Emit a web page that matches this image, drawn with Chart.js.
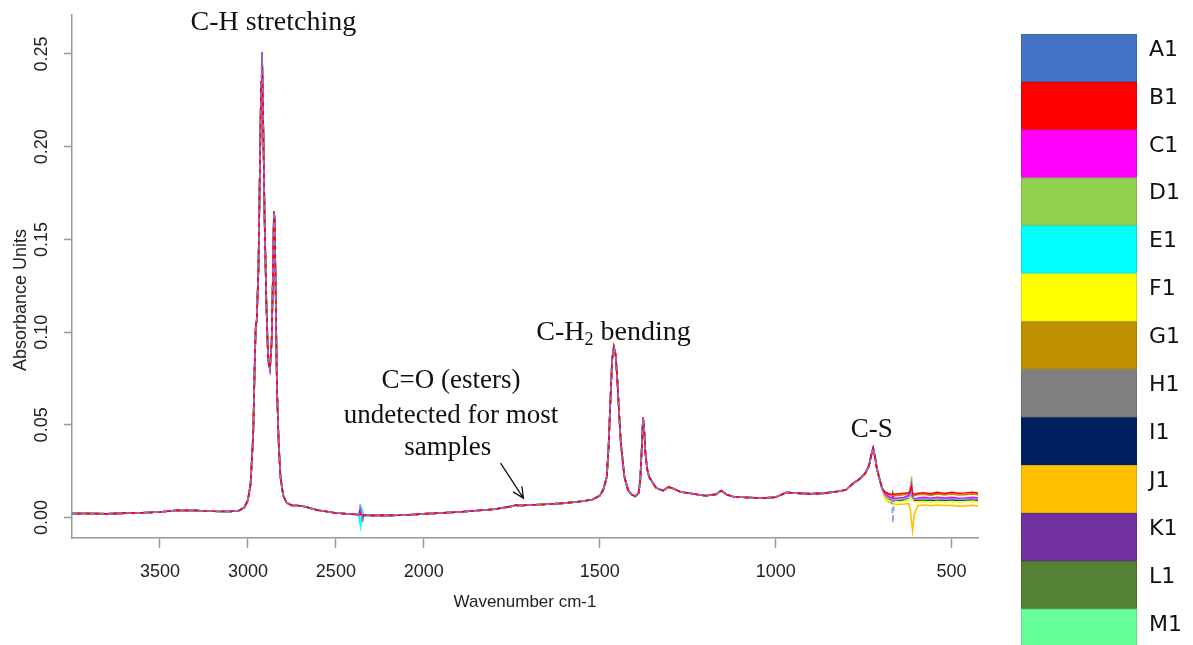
<!DOCTYPE html>
<html lang="en">
<head>
<meta charset="UTF-8">
<title>FTIR spectra A1-M1</title>
<script src="https://cdn.jsdelivr.net/npm/chart.js"></script>
<style>
  html, body { margin: 0; padding: 0; background: #fff; }
  .wrap { width: 1193px; height: 645px; position: relative; }
</style>
</head>
<body>
<div class="wrap"><canvas id="spectra"></canvas></div>
<script>
  // samples and their colours (legend on the right)
  const sampleNames = ['A1', 'B1', 'C1', 'D1', 'E1', 'F1', 'G1', 'H1', 'I1', 'J1', 'K1', 'L1', 'M1'];
  const sampleColors = ['#4472C4', '#FF0000', '#FF00FF', '#92D050', '#00FFFF', '#FFFF00', '#BF8F00',
                        '#808080', '#002060', '#FFC000', '#7030A0', '#548235', '#66FF99'];

  const xTicks = [3500, 3000, 2500, 2000, 1500, 1000, 500];
  const yTicks = [0, 0.05, 0.10, 0.15, 0.20, 0.25];

  // 4000-2380 cm-1 : all samples overlap
  const highWn  = [4000, 3900, 3800, 3700, 3600, 3500, 3400, 3300, 3200, 3100, 3050, 3020, 3000, 2985, 2970,
                   2960, 2955, 2950, 2940, 2930, 2925, 2920, 2915, 2905, 2895, 2885, 2875, 2865, 2858, 2852,
                   2848, 2842, 2835, 2825, 2815, 2800, 2780, 2750, 2720, 2680, 2650, 2600, 2500, 2400, 2380];
  const highAbs = [0.0022, 0.0022, 0.0020, 0.0024, 0.0026, 0.0030, 0.0040, 0.0038, 0.0034, 0.0033, 0.0038, 0.0055, 0.0095, 0.018, 0.045,
                   0.088, 0.104, 0.106, 0.135, 0.200, 0.235, 0.251, 0.225, 0.160, 0.115, 0.085, 0.080, 0.095, 0.130, 0.165,
                   0.160, 0.120, 0.070, 0.040, 0.022, 0.012, 0.008, 0.0065, 0.0065, 0.0060, 0.0052, 0.0040, 0.0025, 0.0018, 0.0017];

  // CO2 region, one row per sample
  const co2Wn = [2370, 2360, 2350, 2340];
  const co2Abs = [
    [0.0020, 0.0078, -0.0030, 0.0012],
    [0.0016, 0.0020, 0.0010, 0.0014],
    [0.0016, 0.0030, 0.0005, 0.0014],
    [0.0016, 0.0018, 0.0012, 0.0014],
    [0.0012, -0.0050, 0.0040, 0.0010],
    [0.0016, 0.0016, 0.0014, 0.0014],
    [0.0016, 0.0016, 0.0014, 0.0014],
    [0.0016, 0.0018, 0.0012, 0.0014],
    [0.0016, 0.0025, 0.0008, 0.0014],
    [0.0016, 0.0016, 0.0014, 0.0014],
    [0.0018, 0.0050, -0.0010, 0.0013],
    [0.0016, 0.0018, 0.0012, 0.0014],
    [0.0014, -0.0020, 0.0030, 0.0012]
  ];

  // 2300-698 cm-1 : all samples overlap
  const midWn  = [2300, 2200, 2100, 2000, 1900, 1800, 1760, 1745, 1740, 1735, 1720, 1700, 1650, 1600, 1550,
                  1520, 1500, 1490, 1480, 1475, 1470, 1465, 1460, 1455, 1450, 1445, 1440, 1430, 1420, 1410,
                  1400, 1390, 1385, 1380, 1377, 1374, 1370, 1365, 1360, 1350, 1340, 1320, 1305, 1290, 1270,
                  1240, 1200, 1170, 1155, 1140, 1120, 1080, 1040, 1000, 970, 940, 900, 860, 820, 800,
                  780, 760, 745, 735, 728, 723, 718, 712, 705, 698];
  const midAbs = [0.0012, 0.0012, 0.0014, 0.0020, 0.0030, 0.0045, 0.0058, 0.0063, 0.0068, 0.0066, 0.0066, 0.0068, 0.0072, 0.0078, 0.0088,
                  0.0098, 0.0118, 0.015, 0.022, 0.038, 0.062, 0.085, 0.092, 0.088, 0.074, 0.056, 0.040, 0.022, 0.015, 0.0125,
                  0.0115, 0.013, 0.020, 0.040, 0.054, 0.048, 0.034, 0.026, 0.022, 0.019, 0.016, 0.0145, 0.0165, 0.0155, 0.0138,
                  0.013, 0.0118, 0.0125, 0.0145, 0.0125, 0.0112, 0.0108, 0.0105, 0.011, 0.0135, 0.0132, 0.0128, 0.0132, 0.0142, 0.015,
                  0.0185, 0.021, 0.024, 0.028, 0.034, 0.0375, 0.033, 0.026, 0.021, 0.016];

  // below 700 cm-1 the samples drift apart, one row per sample
  const tailWn = [690, 680, 670, 667, 664, 650, 635, 622, 617, 614, 611, 606, 595, 580, 560, 540, 520, 500, 480, 460, 440, 425];
  const tailAbs = [
    [0.0120, 0.0100, 0.0090, -0.0030, 0.0092, 0.0095, 0.0098, 0.0105, 0.0120, 0.0135, 0.0110, 0.0095, 0.0098, 0.0102, 0.0098, 0.0102, 0.0097, 0.0102, 0.0098, 0.0097, 0.0101, 0.0098],
    [0.0140, 0.0130, 0.0125, 0.0128, 0.0126, 0.0128, 0.0131, 0.0134, 0.0140, 0.0160, 0.0130, 0.0125, 0.0131, 0.0134, 0.0128, 0.0136, 0.0130, 0.0136, 0.0131, 0.0133, 0.0137, 0.0132],
    [0.0130, 0.0115, 0.0105, 0.0108, 0.0104, 0.0106, 0.0108, 0.0120, 0.0150, 0.0175, 0.0110, 0.0100, 0.0106, 0.0109, 0.0104, 0.0110, 0.0105, 0.0109, 0.0104, 0.0106, 0.0109, 0.0105],
    [0.0130, 0.0112, 0.0102, 0.0104, 0.0101, 0.0102, 0.0106, 0.0130, 0.0170, 0.0220, 0.0120, 0.0102, 0.0103, 0.0106, 0.0101, 0.0105, 0.0102, 0.0106, 0.0101, 0.0103, 0.0106, 0.0102],
    [0.0125, 0.0108, 0.0098, 0.0100, 0.0097, 0.0098, 0.0101, 0.0112, 0.0130, 0.0150, 0.0112, 0.0098, 0.0100, 0.0102, 0.0098, 0.0102, 0.0099, 0.0103, 0.0098, 0.0100, 0.0103, 0.0099],
    [0.0110, 0.0094, 0.0085, 0.0086, 0.0084, 0.0084, 0.0087, 0.0095, 0.0110, 0.0120, 0.0095, 0.0082, 0.0084, 0.0086, 0.0082, 0.0086, 0.0083, 0.0086, 0.0082, 0.0084, 0.0087, 0.0083],
    [0.0135, 0.0124, 0.0118, 0.0120, 0.0118, 0.0120, 0.0123, 0.0128, 0.0135, 0.0150, 0.0125, 0.0118, 0.0123, 0.0126, 0.0120, 0.0128, 0.0122, 0.0127, 0.0122, 0.0124, 0.0128, 0.0123],
    [0.0125, 0.0108, 0.0100, 0.0102, 0.0099, 0.0100, 0.0103, 0.0110, 0.0125, 0.0140, 0.0112, 0.0099, 0.0102, 0.0104, 0.0100, 0.0104, 0.0101, 0.0104, 0.0100, 0.0102, 0.0105, 0.0101],
    [0.0120, 0.0104, 0.0095, 0.0097, 0.0094, 0.0095, 0.0098, 0.0106, 0.0120, 0.0132, 0.0108, 0.0094, 0.0096, 0.0098, 0.0094, 0.0098, 0.0095, 0.0098, 0.0094, 0.0096, 0.0099, 0.0095],
    [0.0105, 0.0086, 0.0076, 0.0076, 0.0073, 0.0071, 0.0073, 0.0076, 0.0040, -0.0020, -0.0070, 0.0020, 0.0065, 0.0068, 0.0064, 0.0068, 0.0065, 0.0066, 0.0062, 0.0063, 0.0066, 0.0062],
    [0.0122, 0.0105, 0.0097, 0.0130, 0.0095, 0.0097, 0.0100, 0.0110, 0.0140, 0.0165, 0.0105, 0.0095, 0.0098, 0.0100, 0.0096, 0.0100, 0.0097, 0.0100, 0.0096, 0.0098, 0.0101, 0.0097],
    [0.0118, 0.0102, 0.0094, 0.0096, 0.0093, 0.0094, 0.0097, 0.0108, 0.0125, 0.0140, 0.0105, 0.0093, 0.0095, 0.0097, 0.0093, 0.0097, 0.0094, 0.0097, 0.0093, 0.0095, 0.0098, 0.0094],
    [0.0125, 0.0108, 0.0100, 0.0102, 0.0099, 0.0100, 0.0103, 0.0125, 0.0160, 0.0195, 0.0115, 0.0100, 0.0102, 0.0104, 0.0100, 0.0104, 0.0101, 0.0104, 0.0100, 0.0102, 0.0105, 0.0101]
  ];

  // peak labels, placed in data units
  const peakNotes = [
    { text: 'C-H stretching', wn: 2855, abs: 0.267, size: 28 },
    { text: 'C=O (esters)', wn: 1923, abs: 0.0736, size: 27 },
    { text: 'undetected for most', wn: 1923, abs: 0.0547, size: 27 },
    { text: 'samples', wn: 1932, abs: 0.0375, size: 27 },
    { text: 'C-S', wn: 727, abs: 0.0472, size: 27 }
  ];

  // axis above 2000 cm-1 is drawn at half scale
  function warp(w) { return w <= 2000 ? w : 2000 + (w - 2000) / 2; }
  function unwarp(u) { return u <= 2000 ? u : 2000 + (u - 2000) * 2; }

  class BrokenScale extends Chart.LinearScale {
    static id = 'broken';
    static defaults = Chart.LinearScale.defaults;
    configure() {
      super.configure();
      this._uMin = warp(this.min);
      this._uMax = warp(this.max);
    }
    getPixelForValue(value) {
      if (value === null || isNaN(value)) return NaN;
      return this.getPixelForDecimal((warp(value) - this._uMin) / (this._uMax - this._uMin));
    }
    getValueForPixel(pixel) {
      return unwarp(this._uMin + this.getDecimalForPixel(pixel) * (this._uMax - this._uMin));
    }
  }
  Chart.register(BrokenScale);

  const serif = '"Liberation Serif", "Times New Roman", serif';

  const notesPlugin = {
    id: 'notes',
    afterDatasetsDraw(chart) {
      const { ctx, scales: { x, y } } = chart;
      ctx.save();
      ctx.fillStyle = '#111';
      ctx.textBaseline = 'middle';
      ctx.textAlign = 'center';
      peakNotes.forEach(n => {
        ctx.font = n.size + 'px ' + serif;
        ctx.fillText(n.text, x.getPixelForValue(n.wn), y.getPixelForValue(n.abs));
      });

      // C-H2 bending with subscript
      const cx = x.getPixelForValue(1461), cy = y.getPixelForValue(0.0995);
      ctx.textAlign = 'left';
      ctx.font = '28px ' + serif;
      const w1 = ctx.measureText('C-H').width, w3 = ctx.measureText(' bending').width;
      ctx.font = '18px ' + serif;
      const w2 = ctx.measureText('2').width;
      const sx = cx - (w1 + w2 + w3) / 2;
      ctx.font = '28px ' + serif;
      ctx.fillText('C-H', sx, cy);
      ctx.font = '18px ' + serif;
      ctx.fillText('2', sx + w1, cy + 7);
      ctx.font = '28px ' + serif;
      ctx.fillText(' bending', sx + w1 + w2, cy);

      // arrow to the ester position
      const x0 = x.getPixelForValue(1782), y0 = y.getPixelForValue(0.0294);
      const x1 = x.getPixelForValue(1717), y1 = y.getPixelForValue(0.0105);
      const a = Math.atan2(y1 - y0, x1 - x0);
      ctx.strokeStyle = '#111';
      ctx.lineWidth = 1.3;
      ctx.beginPath();
      ctx.moveTo(x0, y0);
      ctx.lineTo(x1, y1);
      ctx.moveTo(x1 - 12 * Math.cos(a - 0.45), y1 - 12 * Math.sin(a - 0.45));
      ctx.lineTo(x1, y1);
      ctx.lineTo(x1 - 12 * Math.cos(a + 0.45), y1 - 12 * Math.sin(a + 0.45));
      ctx.stroke();

      // y axis title
      ctx.save();
      ctx.translate(21, 300);
      ctx.rotate(-Math.PI / 2);
      ctx.textAlign = 'center';
      ctx.fillStyle = '#222';
      ctx.font = '18px "Liberation Sans", Arial, sans-serif';
      ctx.fillText('Absorbance Units', 0, 0);
      ctx.restore();
      ctx.restore();
    }
  };

  // colour key as a column of blocks
  const keyPlugin = {
    id: 'sampleKey',
    afterDraw(chart) {
      const ctx = chart.ctx;
      ctx.save();
      ctx.font = '22px "DejaVu Sans", Verdana, sans-serif';
      ctx.textBaseline = 'middle';
      ctx.textAlign = 'left';
      chart.data.datasets.forEach((ds, i) => {
        const top = 34 + i * 47.9;
        ctx.fillStyle = sampleColors[i];
        ctx.fillRect(1021, top, 116, 48);
        ctx.strokeStyle = 'rgba(0,0,0,0.12)';
        ctx.lineWidth = 1;
        ctx.strokeRect(1021.5, top + 0.5, 115, 47);
        ctx.fillStyle = '#111';
        ctx.fillText(ds.label, 1149, top + 16);
      });
      ctx.restore();
    }
  };

  const datasets = sampleNames.map((name, i) => {
    const wn = highWn.concat(co2Wn, midWn, tailWn);
    const ab = highAbs.concat(co2Abs[i], midAbs, tailAbs[i]);
    return {
      label: name,
      data: wn.map((w, k) => ({ x: w, y: ab[k] })),
      borderColor: i === 0 ? 'rgba(120,135,255,0.85)' : sampleColors[i],
      borderWidth: 1.6,
      borderDash: i === 0 ? [5, 4] : [],
      pointRadius: 0,
      tension: 0
    };
  });

  const axisGrey = '#999';
  const tickFont = { family: '"Liberation Sans", Arial, sans-serif', size: 18 };

  new Chart(document.getElementById('spectra'), {
    type: 'line',
    data: { datasets },
    options: {
      responsive: true,
      maintainAspectRatio: false,
      devicePixelRatio: 1,
      animation: false,
      events: [],
      layout: { padding: { top: 15, right: 215, left: 0, bottom: 0 } },
      plugins: { legend: { display: false }, tooltip: { enabled: false } },
      scales: {
        x: {
          type: 'broken',
          min: 425,
          max: 4000,
          reverse: true,
          afterBuildTicks: s => { s.ticks = xTicks.map(v => ({ value: v })); },
          afterFit: s => { s.height = 107; },
          border: { display: true, color: axisGrey, width: 1.5 },
          grid: { drawOnChartArea: false, drawTicks: true, tickLength: 10, color: axisGrey, tickWidth: 1.5 },
          ticks: { autoSkip: false, maxRotation: 0, padding: 13, color: '#222', font: tickFont,
                   callback: v => String(v) },
          title: { display: true, text: 'Wavenumber cm-1', color: '#222',
                   font: { family: '"Liberation Sans", Arial, sans-serif', size: 17 },
                   padding: { top: 0, bottom: 32 } }
        },
        y: {
          type: 'linear',
          min: -0.011,
          max: 0.271,
          afterBuildTicks: s => { s.ticks = yTicks.map(v => ({ value: v })); },
          afterFit: s => { s.width = 72; },
          border: { display: true, color: axisGrey, width: 1.5 },
          grid: { drawOnChartArea: false, drawTicks: true, tickLength: 8, color: axisGrey, tickWidth: 1.5 },
          ticks: { autoSkip: false, minRotation: 90, maxRotation: 90, crossAlign: 'center', padding: 4,
                   color: '#222', font: tickFont, callback: v => v.toFixed(2) }
        }
      }
    },
    plugins: [notesPlugin, keyPlugin]
  });
</script>
</body>
</html>
